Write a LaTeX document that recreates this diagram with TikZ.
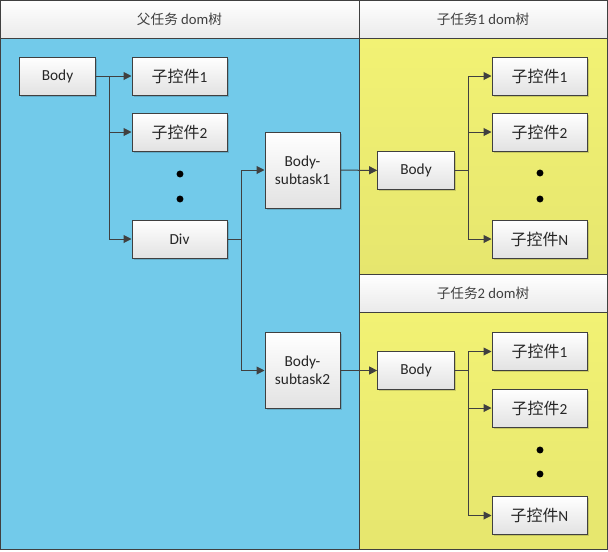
\documentclass[tikz,border=0pt]{standalone}
\usepackage{fontspec}
\setmainfont{Carlito}
\newfontfamily\cjk[Scale=1.04]{Noto Sans CJK SC}
\newfontfamily\cjkhead[Scale=0.93]{Noto Sans CJK SC}
\usetikzlibrary{arrows.meta, shadows}
\definecolor{linegray}{RGB}{64,64,64}
\definecolor{laneblue}{RGB}{114,202,234}
\definecolor{yellowtop}{RGB}{242,242,116}
\definecolor{yellowbot}{RGB}{230,230,110}
\definecolor{boxgray}{RGB}{226,226,226}
\definecolor{headgray}{RGB}{234,234,234}

\begin{document}
\begin{tikzpicture}[x=0.75pt, y=-0.75pt, font=\fontsize{11}{13}\selectfont,
  nodebox/.style={draw=linegray, line width=0.75pt, top color=white, bottom color=boxgray,
    text=black!85, inner sep=1pt, align=center, font=\fontsize{11.5}{13.5}\selectfont,
    drop shadow={shadow xshift=1.2pt, shadow yshift=-1.2pt, fill=black, opacity=0.15}},
  leafbox/.style={nodebox, minimum width=71.25pt, minimum height=28.5pt},
  bodybox/.style={nodebox, minimum width=57.5pt, minimum height=28.5pt},
  taskbox/.style={nodebox, minimum width=56.25pt, minimum height=57pt},
  headtext/.style={text=linegray},
  link/.style={draw=linegray, line width=0.75pt, -{Triangle[length=6pt, width=6pt]}}]
  \useasboundingbox (0,0) rectangle (608,551);
  % lanes
  \fill[laneblue] (0,38) rectangle (359,549);
  \shade[top color=yellowtop, bottom color=yellowbot] (359,38) rectangle (607,274);
  \shade[top color=yellowtop, bottom color=yellowbot] (359,312) rectangle (607,549);
  \shade[top color=white, bottom color=headgray] (0,0) rectangle (359,38);
  \shade[top color=white, bottom color=headgray] (359,0) rectangle (607,38);
  \shade[top color=white, bottom color=headgray] (359,274) rectangle (607,312);
  \draw[linegray, line width=0.75pt] (0.5,0.5) rectangle (607,549);
  \draw[linegray, line width=0.75pt] (359,0.5) -- (359,549);
  \draw[linegray, line width=0.75pt] (0.5,38) -- (607,38);
  \draw[linegray, line width=0.75pt] (359,274) -- (607,274);
  \draw[linegray, line width=0.75pt] (359,312) -- (607,312);
  \node[headtext] (hparent) at (179.5,19) {{\cjkhead 父任务} dom{\cjkhead 树}};
  \node[headtext] (htask1) at (483,19) {{\cjkhead 子任务}1 dom{\cjkhead 树}};
  \node[headtext] (htask2) at (483,293) {{\cjkhead 子任务}2 dom{\cjkhead 树}};

  % parent tree
  \node[bodybox] (body) at (57.5,76) {Body};
  \node[leafbox] (ctl1) at (179.5,76) {{\cjk 子控件}1};
  \node[leafbox] (ctl2) at (179.5,132) {{\cjk 子控件}2};
  \node[leafbox] (div) at (179.5,239) {Div};
  \node[taskbox] (sub1) at (302.5,170) {Body-\\subtask1};
  \node[taskbox] (sub2) at (302.5,370.5) {Body-\\subtask2};
  \foreach \y in {174,199} \fill (180,\y) circle[radius=2.6pt];

  % subtask 1
  \node[bodybox] (tbodya) at (416,170.5) {Body};
  \node[leafbox] (tctla1) at (539.5,76) {{\cjk 子控件}1};
  \node[leafbox] (tctla2) at (539.5,132) {{\cjk 子控件}2};
  \node[leafbox] (tctlaN) at (539.5,239) {{\cjk 子控件}N};
  \foreach \y in {173,199} \fill (540,\y) circle[radius=2.6pt];

  % subtask 2
  \node[bodybox] (tbodyb) at (416,370.5) {Body};
  \node[leafbox] (tctlb1) at (539.5,351.5) {{\cjk 子控件}1};
  \node[leafbox] (tctlb2) at (539.5,408) {{\cjk 子控件}2};
  \node[leafbox] (tctlbN) at (539.5,515.5) {{\cjk 子控件}N};
  \foreach \y in {450,474} \fill (540,\y) circle[radius=2.6pt];

  % links
  \draw[link] (body) -- (ctl1);
  \draw[link] (body.east) -- ++(13,0) |- (ctl2);
  \draw[link] (body.east) -- ++(13,0) |- (div);
  \draw[link] (div.east) -- ++(14,0) |- (sub1);
  \draw[link] (div.east) -- ++(14,0) |- (sub2);
  \draw[link] (sub1) -- (tbodya);
  \draw[link] (sub2) -- (tbodyb);
  \draw[link] (tbodya.east) -- ++(14,0) |- (tctla1);
  \draw[link] (tbodya.east) -- ++(14,0) |- (tctla2);
  \draw[link] (tbodya.east) -- ++(14,0) |- (tctlaN);
  \draw[link] (tbodyb.east) -- ++(14,0) |- (tctlb1);
  \draw[link] (tbodyb.east) -- ++(14,0) |- (tctlb2);
  \draw[link] (tbodyb.east) -- ++(14,0) |- (tctlbN);
\end{tikzpicture}
\end{document}
